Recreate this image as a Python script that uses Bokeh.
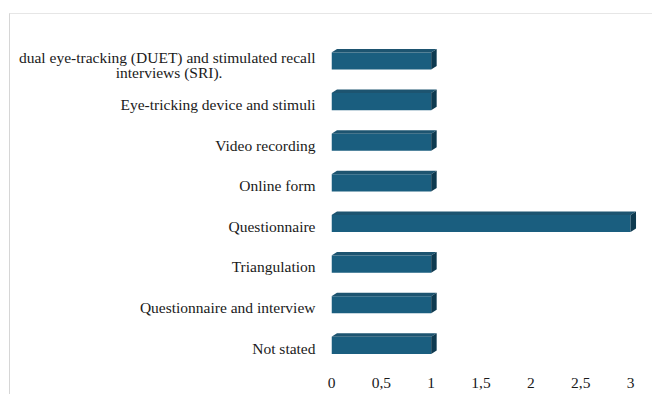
from bokeh.plotting import figure
from bokeh.models import Range1d, FixedTicker
from bokeh.embed import file_html
from bokeh.resources import INLINE

# Data (top to bottom as in the reference)
categories = [
    "dual eye-tracking (DUET) and stimulated recall\ninterviews (SRI).",
    "Eye-tricking device and stimuli",
    "Video recording",
    "Online form",
    "Questionnaire",
    "Triangulation",
    "Questionnaire and interview",
    "Not stated",
]
values = [1, 1, 1, 1, 3, 1, 1, 1]
x_ticks = [0, 0.5, 1, 1.5, 2, 2.5, 3]
x_tick_labels = ["0", "0,5", "1", "1,5", "2", "2,5", "3"]

n = len(categories)
ypos = [n - 1 - i for i in range(n)]  # top category at highest position

FONT = "Liberation Serif"
FSIZE = "15.5px"
TXT = "#1a1a1a"
FRONT = "#1a5e7f"
TOP = "#1d5470"
SIDE = "#0e3a50"
NBSP = "\u00a0"

p = figure(width=643, height=381, output_backend="svg", toolbar_location=None,
           x_range=Range1d(0, 3.15), y_range=Range1d(-0.5, n - 0.5),
           min_border_left=321, min_border_right=8, min_border_top=29,
           min_border_bottom=27, margin=(13, 0, 0, 9))
p.styles = {"border-left": "1px solid #d6d6d6", "border-top": "1px solid #e6e6e6"}
p.outline_line_color = None
p.background_fill_color = "white"
p.border_fill_color = "white"
p.xgrid.visible = False
p.ygrid.visible = False

# 3D bar geometry (data units)
off = 0.07
h = 0.42
dx = 0.055
dy = 0.086

front_y = [y + off for y in ypos]
p.hbar(y=front_y, left=0, right=values, height=h, fill_color=FRONT, line_color=None)

top_xs, top_ys, side_xs, side_ys = [], [], [], []
for y, v in zip(front_y, values):
    yt = y + h / 2
    yb = y - h / 2
    top_xs.append([0, dx, v + dx, v])
    top_ys.append([yt, yt + dy, yt + dy, yt])
    side_xs.append([v, v + dx, v + dx, v])
    side_ys.append([yt, yt + dy, yb + dy, yb])
p.patches(top_xs, top_ys, fill_color=TOP, line_color=None)
p.patches(side_xs, side_ys, fill_color=SIDE, line_color=None)

# X axis
xa = p.xaxis[0]
xa.ticker = FixedTicker(ticks=x_ticks)
xa.major_label_overrides = {t: l for t, l in zip(x_ticks, x_tick_labels)}
xa.axis_line_color = None
xa.major_tick_line_color = None
xa.minor_tick_line_color = None
xa.major_label_standoff = 3
xa.major_label_text_font = FONT
xa.major_label_text_font_size = FSIZE
xa.major_label_text_color = TXT

# Y axis; a wrapped label is split over two ticks, second line centred under the first
ticks, overrides = [], {}
for y, c in zip(ypos, categories):
    if "\n" in c:
        a, b = c.split("\n")
        ticks += [y + 0.16, y - 0.22]
        overrides[y + 0.16] = a
        overrides[y - 0.22] = b + NBSP * 24
    else:
        ticks.append(y)
        overrides[y] = c
ya = p.yaxis[0]
ya.ticker = FixedTicker(ticks=ticks)
ya.major_label_overrides = overrides
ya.axis_line_color = None
ya.major_tick_line_color = None
ya.minor_tick_line_color = None
ya.major_label_standoff = 10
ya.major_label_text_font = FONT
ya.major_label_text_font_size = FSIZE
ya.major_label_text_color = TXT

open("out.html", "w").write(file_html(p, INLINE))
